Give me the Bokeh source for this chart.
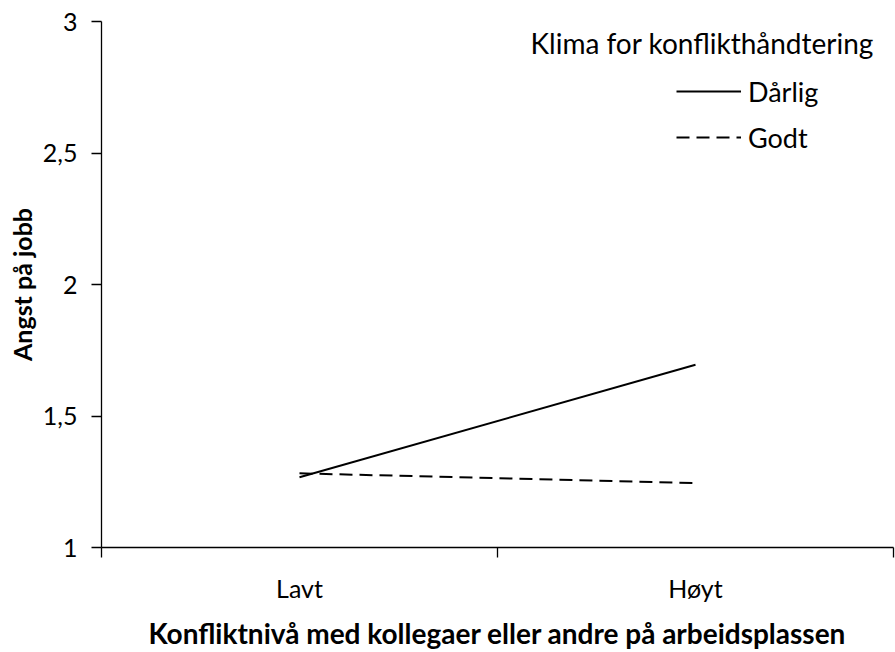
from bokeh.plotting import figure
from bokeh.models import FixedTicker, Range1d, Legend, LegendItem, Label
from bokeh.embed import file_html
from bokeh.resources import INLINE

categories = ["Lavt", "Høyt"]
series_names = ["Dårlig", "Godt"]
darlig = [1.267, 1.695]
godt = [1.282, 1.245]
y_ticks = [1, 1.5, 2, 2.5, 3]
y_tick_labels = ["1", "1,5", "2", "2,5", "3"]
legend_title = "Klima for konflikthåndtering"
x_title = "Konfliktnivå med kollegaer eller andre på arbeidsplassen"
y_title = "Angst på jobb"

FONT = "Lato"

x_pos = [i + 0.5 for i in range(len(categories))]

p = figure(width=895, height=652, output_backend="svg", toolbar_location=None,
           x_range=Range1d(0, len(categories)), y_range=Range1d(1, 3),
           min_border_left=101, min_border_right=2, min_border_top=21, min_border_bottom=105)
p.outline_line_color = None
p.xgrid.grid_line_color = None
p.ygrid.grid_line_color = None
p.background_fill_color = "white"
p.border_fill_color = "white"

r1 = p.line(x_pos, darlig, line_color="black", line_width=2)
r2 = p.line(x_pos, godt, line_color="black", line_width=2, line_dash="13 7")

# y axis
ya = p.yaxis[0]
ya.ticker = FixedTicker(ticks=y_ticks, minor_ticks=[])
ya.major_label_overrides = {t: l for t, l in zip(y_ticks, y_tick_labels)}
ya.major_tick_out = 10
ya.major_tick_in = 0
ya.minor_tick_out = 0
ya.minor_tick_in = 0
ya.axis_line_color = "black"
ya.axis_line_width = 1.3
ya.major_tick_line_width = 1.3
ya.major_label_text_font = FONT
ya.major_label_text_font_size = "25px"
ya.major_label_text_color = "black"
ya.major_label_standoff = 14
ya.axis_label = y_title
ya.axis_label_text_font = FONT
ya.axis_label_text_font_style = "bold"
ya.axis_label_text_font_size = "25px"
ya.axis_label_text_color = "black"
ya.axis_label_standoff = 3

# x axis
xa = p.xaxis[0]
xa.ticker = FixedTicker(ticks=x_pos, minor_ticks=list(range(len(categories) + 1)))
xa.major_label_overrides = {x: c for x, c in zip(x_pos, categories)}
xa.major_tick_out = 0
xa.major_tick_in = 0
xa.minor_tick_out = 10
xa.minor_tick_in = 0
xa.minor_tick_line_color = "black"
xa.minor_tick_line_width = 1.3
xa.axis_line_width = 1.3
xa.major_label_text_font = FONT
xa.major_label_text_font_size = "25px"
xa.major_label_text_color = "black"
xa.major_label_standoff = 15
xa.axis_label = x_title
xa.axis_label_text_font = FONT
xa.axis_label_text_font_style = "bold"
xa.axis_label_text_font_size = "28px"
xa.axis_label_text_color = "black"
xa.axis_label_standoff = 10

legend = Legend(items=[LegendItem(label=series_names[0], renderers=[r1]),
                       LegendItem(label=series_names[1], renderers=[r2])],
                location=(575, 393))
legend.glyph_width = 65
legend.glyph_height = 34
legend.label_height = 34
legend.spacing = 12
legend.padding = 0
legend.margin = 0
legend.label_standoff = 7
legend.border_line_color = None
legend.background_fill_alpha = 0
legend.label_text_font = FONT
legend.label_text_font_size = "27px"
legend.label_text_color = "black"
p.add_layout(legend, "center")

title_label = Label(x=429, y=505, x_units="screen", y_units="screen", text=legend_title,
                    text_font=FONT, text_font_size="28px", text_color="black",
                    text_baseline="middle", text_align="left")
p.add_layout(title_label)

open("out.html", "w").write(file_html(p, INLINE))
